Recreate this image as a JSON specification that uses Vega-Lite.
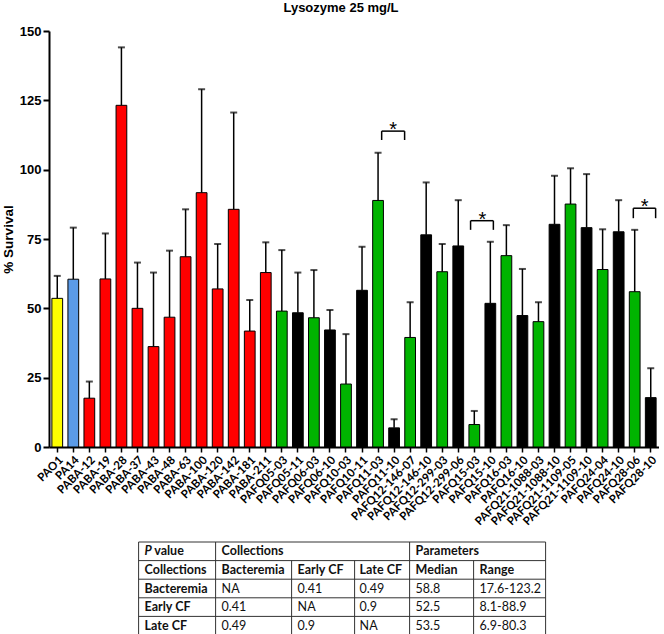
{
  "$schema": "https://vega.github.io/schema/vega-lite/v6.json",
  "padding": {"left": 1, "top": 2, "right": 0, "bottom": 0},
  "background": "white",
  "config": {"view": {"stroke": null}, "font": "Liberation Sans", "concat": {"spacing": 13}},
  "datasets": {
    "strains": [
      {"strain": "PAO1", "group": "PAO1", "survival": 53.6, "upper": 61.7},
      {"strain": "PA14", "group": "PA14", "survival": 60.5, "upper": 79.1},
      {"strain": "PABA-12", "group": "Bacteremia", "survival": 17.6, "upper": 23.6},
      {"strain": "PABA-19", "group": "Bacteremia", "survival": 60.6, "upper": 77.0},
      {"strain": "PABA-28", "group": "Bacteremia", "survival": 123.2, "upper": 144.1},
      {"strain": "PABA-37", "group": "Bacteremia", "survival": 50.0, "upper": 66.5},
      {"strain": "PABA-43", "group": "Bacteremia", "survival": 36.2, "upper": 62.9},
      {"strain": "PABA-48", "group": "Bacteremia", "survival": 46.8, "upper": 70.8},
      {"strain": "PABA-63", "group": "Bacteremia", "survival": 68.6, "upper": 85.7},
      {"strain": "PABA-100", "group": "Bacteremia", "survival": 91.7, "upper": 129.0},
      {"strain": "PABA-120", "group": "Bacteremia", "survival": 57.0, "upper": 73.2},
      {"strain": "PABA-142", "group": "Bacteremia", "survival": 85.7, "upper": 120.6},
      {"strain": "PABA-181", "group": "Bacteremia", "survival": 41.8, "upper": 53.0},
      {"strain": "PABA-211", "group": "Bacteremia", "survival": 62.9, "upper": 73.8},
      {"strain": "PAFQ05-03", "group": "Early CF", "survival": 49.0, "upper": 71.0},
      {"strain": "PAFQ05-11", "group": "Late CF", "survival": 48.4, "upper": 62.9},
      {"strain": "PAFQ06-03", "group": "Early CF", "survival": 46.6, "upper": 63.8},
      {"strain": "PAFQ06-10", "group": "Late CF", "survival": 42.2, "upper": 49.4},
      {"strain": "PAFQ10-03", "group": "Early CF", "survival": 22.7, "upper": 40.7},
      {"strain": "PAFQ10-11", "group": "Late CF", "survival": 56.5, "upper": 72.2},
      {"strain": "PAFQ11-03", "group": "Early CF", "survival": 88.9, "upper": 106.1},
      {"strain": "PAFQ11-10", "group": "Late CF", "survival": 6.9, "upper": 10.0},
      {"strain": "PAFQ12-146-07", "group": "Early CF", "survival": 39.5, "upper": 52.2},
      {"strain": "PAFQ12-146-10", "group": "Late CF", "survival": 76.5, "upper": 95.4},
      {"strain": "PAFQ12-299-03", "group": "Early CF", "survival": 63.2, "upper": 73.2},
      {"strain": "PAFQ12-299-06", "group": "Late CF", "survival": 72.5, "upper": 89.0},
      {"strain": "PAFQ15-03", "group": "Early CF", "survival": 8.1, "upper": 13.0},
      {"strain": "PAFQ15-10", "group": "Late CF", "survival": 51.8, "upper": 74.0},
      {"strain": "PAFQ16-03", "group": "Early CF", "survival": 69.0, "upper": 80.0},
      {"strain": "PAFQ16-10", "group": "Late CF", "survival": 47.4, "upper": 64.2},
      {"strain": "PAFQ21-1088-03", "group": "Early CF", "survival": 45.2, "upper": 52.2},
      {"strain": "PAFQ21-1088-10", "group": "Late CF", "survival": 80.3, "upper": 97.8},
      {"strain": "PAFQ21-1109-05", "group": "Early CF", "survival": 87.6, "upper": 100.5},
      {"strain": "PAFQ21-1109-10", "group": "Late CF", "survival": 79.1, "upper": 98.4},
      {"strain": "PAFQ24-04", "group": "Early CF", "survival": 64.0, "upper": 78.5},
      {"strain": "PAFQ24-10", "group": "Late CF", "survival": 77.6, "upper": 89.0},
      {"strain": "PAFQ28-06", "group": "Early CF", "survival": 56.0, "upper": 78.3},
      {"strain": "PAFQ28-10", "group": "Late CF", "survival": 17.8, "upper": 28.4}
    ],
    "brackets": [
      {"x1": 20.21, "x2": 21.64, "xm": 20.92, "top": 113.9, "leg": 110.7},
      {"x1": 25.75, "x2": 27.17, "xm": 26.48, "top": 81.6, "leg": 78.3},
      {"x1": 35.89, "x2": 37.28, "xm": 36.59, "top": 86.1, "leg": 82.5}
    ],
    "hlines": [
      {"x1": 0, "x2": 407, "y": 0},
      {"x1": 0, "x2": 407, "y": 1},
      {"x1": 0, "x2": 407, "y": 2},
      {"x1": 0, "x2": 407, "y": 3},
      {"x1": 0, "x2": 407, "y": 4},
      {"x1": 0, "x2": 407, "y": 5}
    ],
    "vlines": [
      {"x": 0, "y1": 0, "y2": 5},
      {"x": 77, "y1": 0, "y2": 5},
      {"x": 153, "y1": 1, "y2": 5},
      {"x": 216, "y1": 1, "y2": 5},
      {"x": 271, "y1": 0, "y2": 5},
      {"x": 335, "y1": 1, "y2": 5},
      {"x": 407, "y1": 0, "y2": 5}
    ],
    "cells": [
      {"t": "P", "x": 6, "y": 0.5, "w": "i"},
      {"t": "value", "x": 15.6, "y": 0.5, "w": "b"},
      {"t": "Collections", "x": 83, "y": 0.5, "w": "b"},
      {"t": "Parameters", "x": 277, "y": 0.5, "w": "b"},
      {"t": "Collections", "x": 6, "y": 1.5, "w": "b"},
      {"t": "Bacteremia", "x": 83, "y": 1.5, "w": "b"},
      {"t": "Early CF", "x": 159, "y": 1.5, "w": "b"},
      {"t": "Late CF", "x": 221, "y": 1.5, "w": "b"},
      {"t": "Median", "x": 277, "y": 1.5, "w": "b"},
      {"t": "Range", "x": 341, "y": 1.5, "w": "b"},
      {"t": "Bacteremia", "x": 6, "y": 2.5, "w": "b"},
      {"t": "NA", "x": 83, "y": 2.5, "w": "r"},
      {"t": "0.41", "x": 159, "y": 2.5, "w": "r"},
      {"t": "0.49", "x": 221, "y": 2.5, "w": "r"},
      {"t": "58.8", "x": 277, "y": 2.5, "w": "r"},
      {"t": "17.6-123.2", "x": 341, "y": 2.5, "w": "r"},
      {"t": "Early CF", "x": 6, "y": 3.5, "w": "b"},
      {"t": "0.41", "x": 83, "y": 3.5, "w": "r"},
      {"t": "NA", "x": 159, "y": 3.5, "w": "r"},
      {"t": "0.9", "x": 221, "y": 3.5, "w": "r"},
      {"t": "52.5", "x": 277, "y": 3.5, "w": "r"},
      {"t": "8.1-88.9", "x": 341, "y": 3.5, "w": "r"},
      {"t": "Late CF", "x": 6, "y": 4.5, "w": "b"},
      {"t": "0.49", "x": 83, "y": 4.5, "w": "r"},
      {"t": "0.9", "x": 159, "y": 4.5, "w": "r"},
      {"t": "NA", "x": 221, "y": 4.5, "w": "r"},
      {"t": "53.5", "x": 277, "y": 4.5, "w": "r"},
      {"t": "6.9-80.3", "x": 341, "y": 4.5, "w": "r"}
    ]
  },
  "vconcat": [
    {
      "title": {"text": "Lysozyme 25 mg/L", "fontSize": 13, "fontWeight": "bold", "font": "Liberation Sans", "offset": 10, "dx": -13, "anchor": "middle", "color": "black"},
      "width": 610,
      "height": 416,
      "layer": [
        {
          "data": {"name": "strains"},
          "layer": [
            {
              "mark": {"type": "bar", "stroke": "black", "strokeWidth": 1},
              "encoding": {
                "x": {"field": "strain", "type": "nominal", "sort": null,
                  "scale": {"paddingInner": 0.33, "paddingOuter": 0.18},
                  "axis": {"title": null, "labelAngle": -45, "labelFont": "Lato", "labelFontSize": 11.5, "labelFontWeight": "bold", "labelColor": "black", "tickSize": 5, "tickWidth": 1.5, "tickColor": "black", "domainColor": "black", "domainWidth": 2, "labelPadding": 2}},
                "y": {"field": "survival", "type": "quantitative",
                  "scale": {"domain": [0, 150], "nice": false},
                  "axis": {"values": [0, 25, 50, 75, 100, 125, 150], "title": "% Survival", "titleFontSize": 13.5, "titleFont": "Liberation Sans", "titleFontWeight": "bold", "titleColor": "black", "titlePadding": 4, "labelFont": "Liberation Sans", "labelFontSize": 13, "labelFontWeight": "bold", "labelColor": "black", "labelPadding": 2, "tickSize": 6, "tickWidth": 2, "tickColor": "black", "domainColor": "black", "domainWidth": 2, "grid": false}},
                "color": {"field": "group", "type": "nominal",
                  "scale": {"domain": ["PAO1", "PA14", "Bacteremia", "Early CF", "Late CF"], "range": ["#FFFF00", "#5B9BE8", "#FF0000", "#00B400", "#000000"]},
                  "legend": null}
              }
            },
            {
              "mark": {"type": "rule", "strokeWidth": 1.5, "color": "black"},
              "encoding": {
                "x": {"field": "strain", "type": "nominal", "sort": null},
                "y": {"field": "survival", "type": "quantitative", "title": "% Survival"},
                "y2": {"field": "upper"}
              }
            },
            {
              "mark": {"type": "tick", "orient": "horizontal", "size": 7, "thickness": 2, "color": "black"},
              "encoding": {
                "x": {"field": "strain", "type": "nominal", "sort": null},
                "y": {"field": "upper", "type": "quantitative", "title": "% Survival"}
              }
            }
          ]
        },
        {
          "data": {"name": "brackets"},
          "layer": [
            {
              "mark": {"type": "rule", "strokeWidth": 1.5, "color": "black"},
              "encoding": {
                "x": {"field": "x1", "type": "quantitative", "scale": {"domain": [-0.517, 37.49], "nice": false, "zero": false}, "axis": null},
                "x2": {"field": "x2"},
                "y": {"field": "top", "type": "quantitative", "title": "% Survival"}
              }
            },
            {
              "mark": {"type": "rule", "strokeWidth": 1.5, "color": "black"},
              "encoding": {
                "x": {"field": "x1", "type": "quantitative"},
                "y": {"field": "top", "type": "quantitative", "title": "% Survival"},
                "y2": {"field": "leg"}
              }
            },
            {
              "mark": {"type": "rule", "strokeWidth": 1.5, "color": "black"},
              "encoding": {
                "x": {"field": "x2", "type": "quantitative"},
                "y": {"field": "top", "type": "quantitative", "title": "% Survival"},
                "y2": {"field": "leg"}
              }
            },
            {
              "mark": {"type": "text", "text": "*", "fontSize": 20, "font": "Liberation Sans", "baseline": "alphabetic", "align": "center", "dy": 5, "color": "black"},
              "encoding": {
                "x": {"field": "xm", "type": "quantitative"},
                "y": {"field": "top", "type": "quantitative", "title": "% Survival"}
              }
            }
          ]
        }
      ],
      "resolve": {"scale": {"x": "independent"}}
    },
    {
      "width": 610,
      "height": 93,
      "layer": [
        {
          "data": {"name": "hlines"},
          "mark": {"type": "rule", "color": "#333333", "strokeWidth": 1},
          "encoding": {
            "x": {"field": "x1", "type": "quantitative", "scale": {"domain": [-89.6, 520.4], "nice": false, "zero": false}, "axis": null},
            "x2": {"field": "x2"},
            "y": {"field": "y", "type": "quantitative", "scale": {"domain": [0, 5], "reverse": true, "nice": false}, "axis": null}
          }
        },
        {
          "data": {"name": "vlines"},
          "mark": {"type": "rule", "color": "#333333", "strokeWidth": 1},
          "encoding": {
            "x": {"field": "x", "type": "quantitative"},
            "y": {"field": "y1", "type": "quantitative"},
            "y2": {"field": "y2"}
          }
        },
        {
          "data": {"name": "cells"},
          "transform": [{"filter": "datum.w == 'b'"}],
          "mark": {"type": "text", "align": "left", "baseline": "middle", "font": "Lato", "fontSize": 12.5, "fontWeight": "bold", "color": "#111111"},
          "encoding": {
            "x": {"field": "x", "type": "quantitative"},
            "y": {"field": "y", "type": "quantitative"},
            "text": {"field": "t"}
          }
        },
        {
          "data": {"name": "cells"},
          "transform": [{"filter": "datum.w == 'r'"}],
          "mark": {"type": "text", "align": "left", "baseline": "middle", "font": "Lato", "fontSize": 12.5, "color": "#111111"},
          "encoding": {
            "x": {"field": "x", "type": "quantitative"},
            "y": {"field": "y", "type": "quantitative"},
            "text": {"field": "t"}
          }
        },
        {
          "data": {"name": "cells"},
          "transform": [{"filter": "datum.w == 'i'"}],
          "mark": {"type": "text", "align": "left", "baseline": "middle", "font": "Lato", "fontSize": 12.5, "fontWeight": "bold", "fontStyle": "italic", "color": "#111111"},
          "encoding": {
            "x": {"field": "x", "type": "quantitative"},
            "y": {"field": "y", "type": "quantitative"},
            "text": {"field": "t"}
          }
        }
      ]
    }
  ]
}
